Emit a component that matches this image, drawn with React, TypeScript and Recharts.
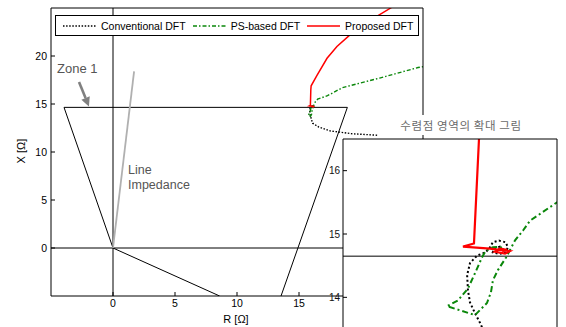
import { Line, LineChart, ReferenceLine, XAxis, YAxis } from "recharts";

// Apparent impedance trajectories (R, X in ohms), in time order
const conventionalR = [21.3, 19.3, 17.5, 16.6, 16.1, 15.99, 15.96, 15.925, 15.89, 15.876, 15.87, 15.89, 15.94, 16.0, 16.03, 16.05, 16.093, 16.14, 16.156, 16.14, 16.093, 16.05, 16.06, 16.1, 16.12, 16.1, 16.095];
const conventionalX = [11.75, 11.9, 12.2, 12.6, 13.0, 13.45, 13.6, 13.75, 13.92, 14.11, 14.35, 14.54, 14.66, 14.71, 14.79, 14.87, 14.895, 14.87, 14.79, 14.71, 14.685, 14.71, 14.77, 14.8, 14.76, 14.74, 14.755];

const psBasedR = [25.5, 24.6, 21.5, 18.5, 17.3, 16.5, 16.311, 16.262, 16.206, 16.143, 16.086, 16.051, 16.037, 16.009, 15.925, 15.729, 15.806, 15.876, 15.925, 15.974, 16.002, 16.051, 16.1, 16.12, 16.09, 16.11];
const psBasedX = [19.0, 18.8, 17.7, 16.7, 15.87, 15.5, 15.21, 15.055, 14.9, 14.63, 14.43, 14.27, 14.08, 13.91, 13.72, 13.86, 13.95, 14.14, 14.38, 14.63, 14.74, 14.79, 14.8, 14.77, 14.75, 14.76];

const proposedR = [23.2, 22.4, 20.6, 19.2, 18.06, 17.26, 16.45, 15.98, 15.953, 15.918, 15.841, 16.03, 16.17, 16.136, 16.065, 16.1, 16.15, 16.114];
const proposedX = [25.8, 25.0, 23.6, 22.3, 21.0, 19.76, 17.97, 16.9, 16.49, 14.85, 14.8, 14.77, 14.73, 14.69, 14.72, 14.77, 14.75, 14.725];

// Quadrilateral zone 1 characteristic and line impedance
const zoneR = [8.6, 0, -3.95, 18.9, 13.55];
const zoneX = [-5, 0, 14.65, 14.65, -5];
const lineImpR = [0, 1.7];
const lineImpX = [0, 18.4];

const mainDomain = [-5, 25];
const mainTicks = [0, 5, 10, 15, 20];
const insetRDomain = [15, 16.5];
const insetXDomain = [13.5, 16.5];
const insetRTicks = [15.5, 16];
const insetXTicks = [14, 15, 16];

const toPoints = (r: number[], x: number[]) => r.map((v, i) => ({ r: v, x: x[i] }));

const zone = toPoints(zoneR, zoneX);
const lineImpedance = toPoints(lineImpR, lineImpX);

const series = [
  { name: "Conventional DFT", data: toPoints(conventionalR, conventionalX), color: "#000000", dash: "1.5 1.6", insetDash: "2 2.4", width: 1.4, insetWidth: 2 },
  { name: "PS-based DFT", data: toPoints(psBasedR, psBasedX), color: "#0a870a", dash: "4 2 1.5 2", insetDash: "6 3 2 3", width: 1.4, insetWidth: 2 },
  { name: "Proposed DFT", data: toPoints(proposedR, proposedX), color: "#ff0000", dash: undefined, insetDash: undefined, width: 1.5, insetWidth: 2.2 },
];

const arrow = [
  { x: -2.74, y: 17.3 },
  { x: -1.94, y: 14.75 },
];

function ArrowShape(props: any) {
  const { x1, y1, x2, y2 } = props;
  const ang = Math.atan2(y2 - y1, x2 - x1);
  const len = 9;
  const half = 4.5;
  const bx = x2 - len * Math.cos(ang);
  const by = y2 - len * Math.sin(ang);
  const px = -Math.sin(ang) * half;
  const py = Math.cos(ang) * half;
  return (
    <g>
      <line x1={x1} y1={y1} x2={bx} y2={by} stroke="#808080" strokeWidth={2.6} />
      <polygon points={`${x2},${y2} ${bx + px},${by + py} ${bx - px},${by - py}`} fill="#808080" />
    </g>
  );
}

const axisText = { fontSize: 10.5, fill: "#000" };

export default function App() {
  return (
    <div
      style={{
        position: "fixed",
        left: 0,
        top: 0,
        width: 566,
        height: 327,
        overflow: "hidden",
        background: "#fff",
        fontFamily: '"Liberation Sans", Arial, sans-serif',
      }}
    >
      <LineChart
        width={566}
        height={327}
        margin={{ top: 7, right: 142, bottom: 30, left: 50 }}
        style={{ position: "absolute", left: 0, top: 0 }}
      >
        <XAxis dataKey="r" type="number" domain={mainDomain} ticks={mainTicks} allowDataOverflow height={1} tickSize={-4} tickMargin={8} stroke="#000" tick={axisText} />
        <XAxis xAxisId="top" orientation="top" dataKey="r" type="number" domain={mainDomain} ticks={mainTicks} allowDataOverflow height={1} tickSize={-4} stroke="#000" tick={false} />
        <YAxis type="number" domain={mainDomain} ticks={mainTicks} allowDataOverflow width={1} tickSize={-4} tickMargin={8} stroke="#000" tick={axisText} />
        <YAxis yAxisId="right" orientation="right" type="number" domain={mainDomain} ticks={mainTicks} allowDataOverflow width={1} tickSize={-4} stroke="#000" tick={false} />
        <ReferenceLine x={0} stroke="#000" strokeWidth={1} />
        <ReferenceLine y={0} stroke="#000" strokeWidth={1} />
        <Line data={zone} dataKey="x" stroke="#000" strokeWidth={1} dot={false} isAnimationActive={false} legendType="none" />
        <Line data={lineImpedance} dataKey="x" stroke="#b0b0b0" strokeWidth={1.8} dot={false} isAnimationActive={false} legendType="none" />
        <ReferenceLine segment={arrow} shape={ArrowShape} ifOverflow="visible" />
        {series.map((s) => (
          <Line
            key={s.name}
            name={s.name}
            data={s.data}
            dataKey="x"
            stroke={s.color}
            strokeWidth={s.width}
            strokeDasharray={s.dash}
            dot={false}
            isAnimationActive={false}
          />
        ))}
      </LineChart>

      <div style={{ position: "absolute", left: 57, top: 61, fontSize: 13, color: "#555" }}>Zone 1</div>
      <div style={{ position: "absolute", left: 128, top: 163, fontSize: 12.5, color: "#555", lineHeight: "15px" }}>
        Line
        <br />
        Impedance
      </div>
      <div style={{ position: "absolute", left: 206, top: 313, width: 60, textAlign: "center", fontSize: 11 }}>R [Ω]</div>
      <div
        style={{
          position: "absolute",
          left: -9,
          top: 145,
          width: 60,
          textAlign: "center",
          fontSize: 11,
          transform: "rotate(-90deg)",
        }}
      >
        X [Ω]
      </div>

      {/* legend */}
      <div
        style={{
          position: "absolute",
          left: 55,
          top: 15,
          width: 364,
          height: 21,
          boxSizing: "border-box",
          border: "1px solid #000",
          background: "#fff",
          display: "flex",
          alignItems: "center",
          paddingLeft: 7,
          fontSize: 10.5,
          whiteSpace: "nowrap",
        }}
      >
        {series.map((s) => (
          <div key={s.name} style={{ display: "flex", alignItems: "center", marginRight: 7 }}>
            <svg width={33} height={8} style={{ marginRight: 5 }}>
              <line x1={0} y1={4} x2={33} y2={4} stroke={s.color} strokeWidth={1.4} strokeDasharray={s.dash} />
            </svg>
            <span>{s.name}</span>
          </div>
        ))}
      </div>

      {/* zoomed view around the convergence point */}
      <div style={{ position: "absolute", left: 343, top: 139, width: 214, height: 190, background: "#fff" }} />
      <LineChart
        width={248}
        height={240}
        margin={{ top: 38, right: 8, bottom: 10, left: 24 }}
        style={{ position: "absolute", left: 318, top: 100 }}
      >
        <XAxis dataKey="r" type="number" domain={insetRDomain} ticks={insetRTicks} allowDataOverflow height={1} tickSize={-4} stroke="#000" tick={false} />
        <XAxis xAxisId="top" orientation="top" dataKey="r" type="number" domain={insetRDomain} ticks={insetRTicks} allowDataOverflow height={1} tickSize={-4} stroke="#000" tick={false} />
        <YAxis type="number" domain={insetXDomain} ticks={insetXTicks} allowDataOverflow width={1} tickSize={-4} tickMargin={7} stroke="#000" tick={{ fontSize: 10, fill: "#111" }} />
        <YAxis yAxisId="right" orientation="right" type="number" domain={insetXDomain} ticks={insetXTicks} allowDataOverflow width={1} tickSize={-4} stroke="#000" tick={false} />
        <Line data={zone} dataKey="x" stroke="#000" strokeWidth={1} dot={false} isAnimationActive={false} legendType="none" />
        {series.map((s) => (
          <Line
            key={s.name}
            name={s.name}
            data={s.data}
            dataKey="x"
            stroke={s.color}
            strokeWidth={s.insetWidth}
            strokeDasharray={s.insetDash}
            dot={false}
            isAnimationActive={false}
          />
        ))}
      </LineChart>
      <div
        style={{
          position: "absolute",
          left: 392,
          top: 115,
          width: 138,
          height: 20,
          background: "#fff",
          textAlign: "center",
          lineHeight: "20px",
          fontSize: 11.5,
          letterSpacing: 0.6,
          color: "#6a6a6a",
          fontFamily: '"Noto Sans CJK KR", sans-serif',
        }}
      >
        수렴점 영역의 확대 그림
      </div>
    </div>
  );
}
